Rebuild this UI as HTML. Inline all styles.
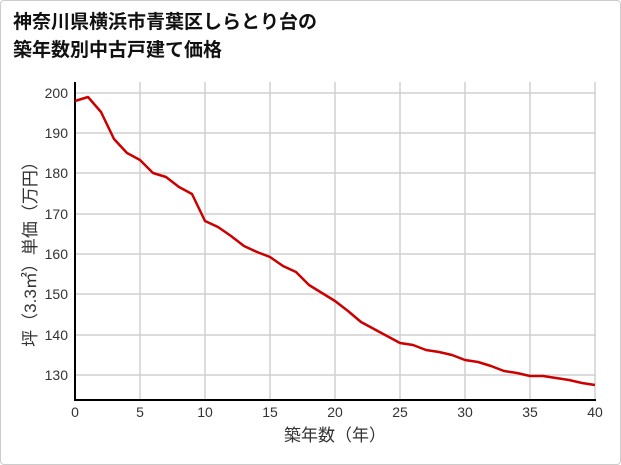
<!DOCTYPE html>
<html><head><meta charset="utf-8"><style>
body{margin:0;background:#fff}
.w{position:relative;width:619px;height:463px;border:1px solid #ccc;border-radius:4px;overflow:hidden;font-family:"Liberation Sans","Noto Sans CJK JP",sans-serif}
.t{position:absolute;left:12px;top:8px;font-size:19px;font-weight:bold;line-height:28px;color:#111}
</style></head><body><div class="w">
<div class="t">神奈川県横浜市青葉区しらとり台の<br>築年数別中古戸建て価格</div>
<svg width="621" height="465" style="position:absolute;left:-1px;top:-1px" font-family="Liberation Sans,Noto Sans CJK JP,sans-serif">
<g stroke="#d0d0d0" stroke-width="1.5">
<line x1="75" x2="596" y1="93" y2="93"/><line x1="75" x2="596" y1="133" y2="133"/><line x1="75" x2="596" y1="173" y2="173"/><line x1="75" x2="596" y1="214" y2="214"/><line x1="75" x2="596" y1="254" y2="254"/><line x1="75" x2="596" y1="294" y2="294"/><line x1="75" x2="596" y1="335" y2="335"/><line x1="75" x2="596" y1="375" y2="375"/>
<line y1="82" y2="400" x1="140" x2="140"/><line y1="82" y2="400" x1="205" x2="205"/><line y1="82" y2="400" x1="270" x2="270"/><line y1="82" y2="400" x1="335" x2="335"/><line y1="82" y2="400" x1="400" x2="400"/><line y1="82" y2="400" x1="465" x2="465"/><line y1="82" y2="400" x1="530" x2="530"/><line y1="82" y2="400" x1="595" x2="595"/>
</g>
<line x1="75" x2="75" y1="82" y2="400" stroke="#000" stroke-width="2"/>
<line x1="74" x2="596" y1="400" y2="400" stroke="#000" stroke-width="2"/>
<g font-size="14" fill="#333" text-anchor="end">
<text x="68" y="98">200</text><text x="68" y="138">190</text><text x="68" y="178">180</text><text x="68" y="219">170</text><text x="68" y="259">160</text><text x="68" y="299">150</text><text x="68" y="340">140</text><text x="68" y="380">130</text>
</g>
<g font-size="14" fill="#333" text-anchor="middle">
<text x="75" y="417">0</text><text x="140" y="417">5</text><text x="205" y="417">10</text><text x="270" y="417">15</text><text x="335" y="417">20</text><text x="400" y="417">25</text><text x="465" y="417">30</text><text x="530" y="417">35</text><text x="595" y="417">40</text>
</g>
<text x="335" y="441" font-size="17" fill="#333" text-anchor="middle">築年数（年）</text>
<text transform="translate(36,250) rotate(-90)" font-size="17" fill="#333" text-anchor="middle">坪（3.3㎡）単価（万円）</text>
<polyline fill="none" stroke="#cc0000" stroke-width="2.5" stroke-linejoin="round" points="75,101 88,97 101,112 114,139 127,153 140,160 153,173 166,177 179,187 192,194 205,221 218,227 231,236 244,246 257,252 270,257 283,266 296,272 309,285 322,293 335,301 348,311 361,322 374,329 387,336 400,343 413,345 426,350 439,352 452,355 465,360 478,362 491,366 504,371 517,373 530,376 543,376 556,378 569,380 582,383 595,385"/>
</svg></div></body></html>
